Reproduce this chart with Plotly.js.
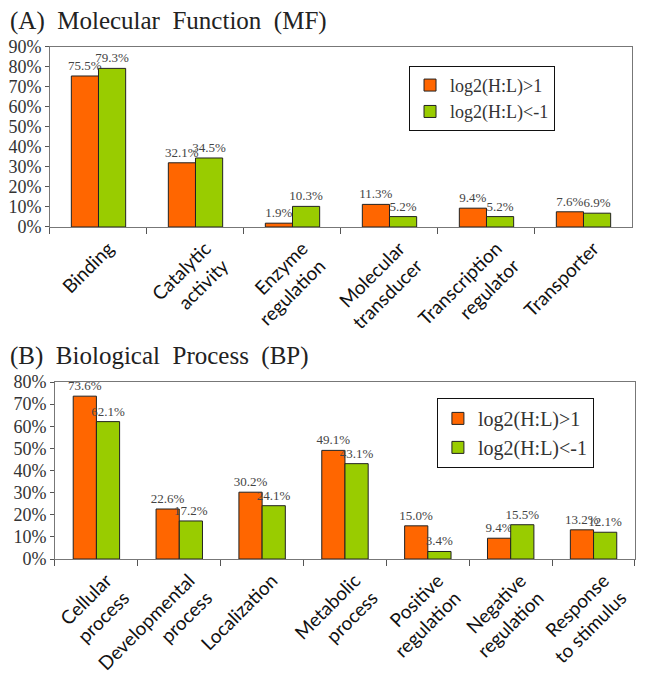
<!DOCTYPE html>
<html>
<head>
<meta charset="utf-8">
<script src="https://cdn.plot.ly/plotly-3.0.1.min.js"></script>
<style>
  html, body { margin: 0; padding: 0; background: #fff; }
  #chart { width: 664px; height: 679px; }
</style>
</head>
<body>
<div id="chart"></div>
<script>
// Panel A: Molecular Function
const mfCategories = ['Binding', 'Catalytic<br>activity', 'Enzyme<br>regulation', 'Molecular<br>transducer', 'Transcription<br>regulator', 'Transporter'];
const mfUp = [75.5, 32.1, 1.9, 11.3, 9.4, 7.6];
const mfDown = [79.3, 34.5, 10.3, 5.2, 5.2, 6.9];

// Panel B: Biological Process
const bpCategories = ['Cellular<br>process', 'Developmental<br>process', 'Localization', 'Metabolic<br>process', 'Positive<br>regulation', 'Negative<br>regulation', 'Response<br>to stimulus'];
const bpUp = [73.6, 22.6, 30.2, 49.1, 15.0, 9.4, 13.2];
const bpDown = [62.1, 17.2, 24.1, 43.1, 3.4, 15.5, 12.1];

const seriesNames = ['log2(H:L)>1', 'log2(H:L)<-1'];
const orange = '#FF6600';
const green = '#99CC00';

const serif = 'Liberation Serif, Times New Roman, serif';
const textFont = { family: serif, size: 13, color: '#444' };

function barTrace(x, y, name, color, xa, ya, legend) {
    return {
        type: 'bar',
        x: x,
        y: y,
        name: name,
        xaxis: xa,
        yaxis: ya,
        legend: legend,
        marker: { color: color, line: { color: '#222', width: 1 } },
        text: y.map(v => v.toFixed(1) + '%'),
        textposition: 'outside',
        textangle: 0,
        textfont: textFont,
        constraintext: 'none',
        cliponaxis: false,
        hoverinfo: 'skip'
    };
}

const data = [
    barTrace(mfCategories, mfUp, seriesNames[0], orange, 'x', 'y', 'legend'),
    barTrace(mfCategories, mfDown, seriesNames[1], green, 'x', 'y', 'legend'),
    barTrace(bpCategories, bpUp, seriesNames[0], orange, 'x2', 'y2', 'legend2'),
    barTrace(bpCategories, bpDown, seriesNames[1], green, 'x2', 'y2', 'legend2')
];

const tickFontY = { family: serif, size: 18, color: '#333' };
const tickFontX = { family: 'Lato, Open Sans, sans-serif', size: 19, color: '#111' };

function xAxis(domain, anchor) {
    return {
        domain: domain,
        anchor: anchor,
        type: 'category',
        tickangle: -45,
        tickfont: tickFontX,
        ticklabelshift: 10,
        ticklabelstandoff: 2,
        showline: true,
        linecolor: '#777',
        linewidth: 1,
        mirror: true,
        ticks: 'outside',
        tickson: 'boundaries',
        ticklen: 6,
        tickcolor: '#555',
        showgrid: false,
        automargin: false
    };
}

function yAxis(domain, anchor, maxVal) {
    return {
        domain: domain,
        anchor: anchor,
        range: [0, maxVal],
        dtick: 10,
        ticksuffix: '%',
        tickfont: tickFontY,
        showline: true,
        linecolor: '#777',
        linewidth: 1,
        mirror: true,
        ticks: 'outside',
        ticklen: 4,
        tickcolor: '#555',
        showgrid: false,
        zeroline: false,
        automargin: false
    };
}

function legendStyle(x, y, size) {
    return {
        x: x,
        y: y,
        bgcolor: '#fff',
        bordercolor: '#111',
        borderwidth: 1,
        font: { family: serif, size: size, color: '#333' },
        xanchor: 'left',
        yanchor: 'top',
        traceorder: 'normal',
        itemwidth: 30,
        tracegroupgap: 0
    };
}

const titleFont = { family: serif, size: 25, color: '#222' };

const layout = {
    width: 664,
    height: 679,
    margin: { t: 0, r: 0, b: 0, l: 0 },
    paper_bgcolor: '#fff',
    plot_bgcolor: '#fff',
    barmode: 'group',
    bargap: 0.44,
    bargroupgap: 0,
    xaxis: xAxis([0.0753, 0.9518], 'y'),
    yaxis: yAxis([0.6657, 0.9308], 'x', 90),
    xaxis2: xAxis([0.0828, 0.9563], 'y2'),
    yaxis2: yAxis([0.1767, 0.4374], 'x2', 80),
    legend: legendStyle(0.616, 0.903, 18),
    legend2: legendStyle(0.658, 0.414, 20),
    annotations: [
        {
            text: '(A)  Molecular  Function  (MF)',
            xref: 'paper', yref: 'paper',
            x: 0.012, y: 0.992,
            xanchor: 'left', yanchor: 'top',
            showarrow: false,
            font: titleFont
        },
        {
            text: '(B)  Biological  Process  (BP)',
            xref: 'paper', yref: 'paper',
            x: 0.012, y: 0.5,
            xanchor: 'left', yanchor: 'top',
            showarrow: false,
            font: titleFont
        }
    ]
};

const config = {
    displayModeBar: false,
    staticPlot: true
};

Plotly.newPlot('chart', data, layout, config);
</script>
</body>
</html>
